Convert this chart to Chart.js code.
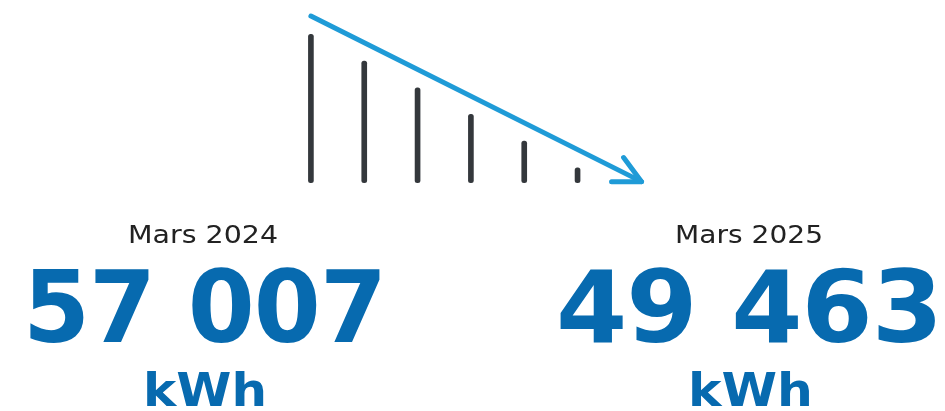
<!DOCTYPE html>
<html>
<head>
<meta charset="utf-8">
<script src="https://cdn.jsdelivr.net/npm/chart.js@4"></script>
<style>
    html, body { margin: 0; padding: 0; background: #fff; }
    #wrap { position: relative; width: 945px; height: 411px; overflow: hidden; }
    #wrap canvas { position: absolute; left: 0; top: 0; }
    .lbl { position: absolute; white-space: nowrap; transform-origin: 0 0; }
    .period { font-family: "DejaVu Sans", sans-serif; font-weight: 400; font-size: 25px; color: #222; line-height: 1; letter-spacing: 0; }
    .value { font-family: "DejaVu Sans", sans-serif; font-weight: bold; font-size: 99px; color: #076aaf; line-height: 1; letter-spacing: -1px; }
    .unit { font-family: "DejaVu Sans", sans-serif; font-weight: bold; font-size: 47px; color: #076aaf; line-height: 1; }
</style>
</head>
<body>
<div id="wrap">
    <canvas id="trendChart" width="945" height="411"></canvas>
</div>
<script>
// decorative bars (heights)
const barPositions = [0, 1, 2, 3, 4, 5];
const barHeights = [5.56, 4.56, 3.56, 2.56, 1.56, 0.56];

// trend arrow, start and end
const arrowX = [0, 6.2];
const arrowY = [6.25, 0.04];

// the two figures
const periods = ["Mars 2024", "Mars 2025"];
const consumption = ["57 007", "49 463"];
const unitLabel = "kWh";

// text boxes: left edge and width of each label as seen in the picture
const periodBox = [[128, 150], [675, 148]];
const valueBox = [[23, 363], [556, 386]];
const unitBox = [[143, 124], [688, 125]];

document.addEventListener("DOMContentLoaded", () => {
    const wrap = document.getElementById("wrap");

    function addLabel(cls, text, box, top) {
        let d = document.createElement("div");
        d.className = "lbl " + cls;
        d.textContent = text;
        d.style.top = top + "px";
        wrap.appendChild(d);
        // fit the text to the width it has in the picture
        const w = d.getBoundingClientRect().width;
        d.style.left = box[0] + "px";
        d.style.transform = `scaleX(${box[1] / w})`;
    }

    periods.forEach((p, i) => {
        addLabel("period", p, periodBox[i], 222);
        addLabel("value", consumption[i], valueBox[i], 258);
        addLabel("unit", unitLabel, unitBox[i], 366);
    });

    // arrow head drawn at the end of the trend line
    const arrowHead = {
        id: "arrowHead",
        afterDatasetsDraw(chart) {
            const meta = chart.getDatasetMeta(1);
            const p0 = meta.data[0], p1 = meta.data[meta.data.length - 1];
            const ang = Math.atan2(p1.y - p0.y, p1.x - p0.x);
            const len = 30, spread = 26.6 * Math.PI / 180;
            const ctx = chart.ctx;
            ctx.save();
            ctx.strokeStyle = "#1f9bd7";
            ctx.lineWidth = 5;
            ctx.lineCap = "round";
            ctx.lineJoin = "round";
            ctx.beginPath();
            ctx.moveTo(p1.x - len * Math.cos(ang - spread), p1.y - len * Math.sin(ang - spread));
            ctx.lineTo(p1.x, p1.y);
            ctx.lineTo(p1.x - len * Math.cos(ang + spread), p1.y - len * Math.sin(ang + spread));
            ctx.stroke();
            ctx.restore();
        }
    };

    const ctx = document.getElementById("trendChart").getContext("2d");
    new Chart(ctx, {
        type: "bar",
        data: {
            datasets: [
                {
                    type: "bar",
                    data: barPositions.map((x, i) => ({ x: x, y: barHeights[i] })),
                    backgroundColor: "#34383c",
                    barThickness: 5,
                    borderRadius: 2.5,
                    borderSkipped: false
                },
                {
                    type: "line",
                    data: arrowX.map((x, i) => ({ x: x, y: arrowY[i] })),
                    borderColor: "#1f9bd7",
                    borderWidth: 5,
                    borderCapStyle: "round",
                    pointRadius: 0,
                    fill: false
                }
            ]
        },
        options: {
            responsive: false,
            animation: false,
            layout: { padding: 0 },
            plugins: {
                legend: { display: false },
                tooltip: { enabled: false }
            },
            scales: {
                x: { type: "linear", display: false, offset: false, min: -5.83, max: 11.89 },
                y: { display: false, min: -8.56, max: 6.85 }
            }
        },
        plugins: [arrowHead]
    });
});
</script>
</body>
</html>
